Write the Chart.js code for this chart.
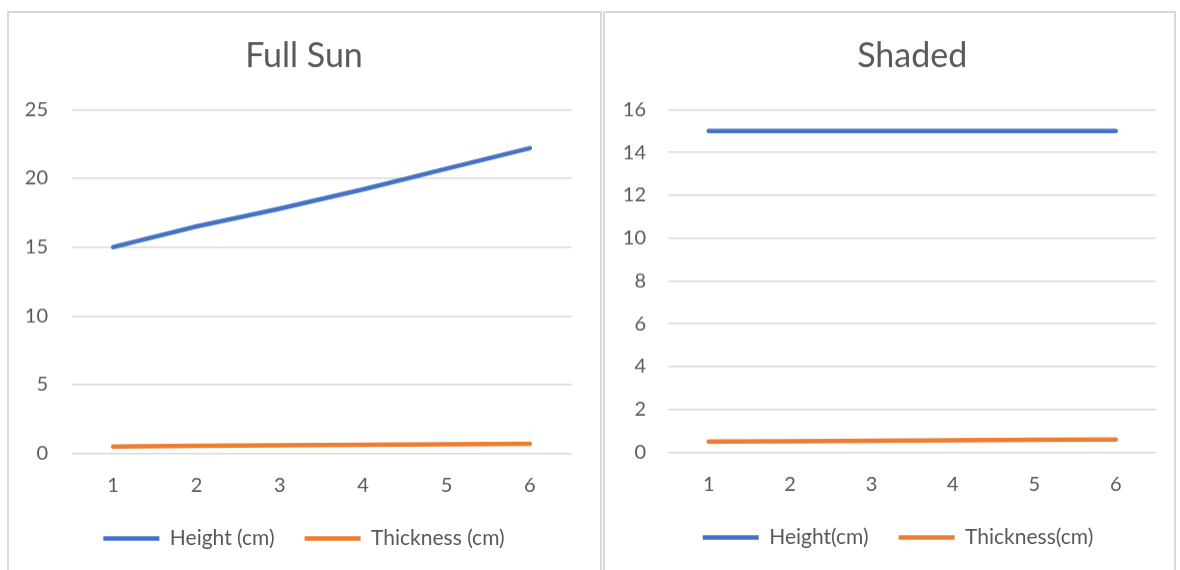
<!DOCTYPE html>
<html>
<head>
<meta charset="utf-8">
<script src="https://cdn.jsdelivr.net/npm/chart.js@4.4.0/dist/chart.umd.min.js"></script>
<style>
  html, body { margin: 0; padding: 0; background: #fff; overflow: hidden; }
  body { width: 1180px; height: 570px; position: relative; }
  .frame { position: absolute; box-sizing: border-box; border: 2px solid #d9d9d9; }
  canvas { position: absolute; }
</style>
</head>
<body>
<div class="frame" style="left:7px; top:11px; width:595px; height:600px;"></div>
<div class="frame" style="left:603px; top:11px; width:573px; height:600px;"></div>
<canvas id="sunChart" style="left:8px; top:0px;"></canvas>
<canvas id="shadeChart" style="left:604px; top:0px;"></canvas>
<script>
const days = ['1', '2', '3', '4', '5', '6'];

const sunHeight = [15, 16.5, 17.8, 19.2, 20.7, 22.2];
const sunThickness = [0.5, 0.54, 0.58, 0.62, 0.66, 0.7];
const sunLabels = ['Height (cm)', 'Thickness (cm)'];
const sunMax = 25, sunStep = 5;

const shadeHeight = [15, 15, 15, 15, 15, 15];
const shadeThickness = [0.5, 0.52, 0.54, 0.56, 0.58, 0.6];
const shadeLabels = ['Height(cm)', 'Thickness(cm)'];
const shadeMax = 16, shadeStep = 2;

const textColor = '#595959';
const gridColor = '#d9d9d9';
const blue = '#4472C4';
const orange = '#ED7D31';
const family = 'Lato, "Open Sans", sans-serif';

function lineSet(label, data, color) {
    return {
        label: label,
        data: data,
        borderColor: color,
        backgroundColor: color,
        borderWidth: 4.5,
        borderCapStyle: 'round',
        borderJoinStyle: 'round',
        pointRadius: 0,
        pointStyle: 'line',
        tension: 0
    };
}

// cfg: canvas size, axis widths and title placement for one panel
function makeChart(id, cfg, title, labels, height, thickness, yMax, yStep) {
    const el = document.getElementById(id);
    el.width = cfg.w;
    el.height = cfg.h;
    el.style.width = cfg.w + 'px';
    el.style.height = cfg.h + 'px';
    return new Chart(el, {
        type: 'line',
        data: {
            labels: days,
            datasets: [
                lineSet(labels[0], height, blue),
                lineSet(labels[1], thickness, orange)
            ]
        },
        options: {
            responsive: false,
            animation: false,
            layout: { padding: 0 },
            plugins: {
                title: {
                    display: true,
                    text: title,
                    color: textColor,
                    fullSize: cfg.titleFull,
                    font: { family: family, size: 34, weight: 'normal' },
                    padding: { top: 35.6, bottom: 33 }
                },
                legend: {
                    position: 'bottom',
                    labels: {
                        color: textColor,
                        font: { family: family, size: 21 },
                        usePointStyle: true,
                        pointStyleWidth: 56,
                        padding: 30
                    }
                },
                tooltip: { enabled: false }
            },
            scales: {
                x: {
                    offset: true,
                    grid: { display: false, drawTicks: false },
                    border: { display: false },
                    ticks: {
                        color: textColor,
                        font: { family: family, size: 20 },
                        padding: 20,
                        maxRotation: 0
                    },
                    afterFit: (s) => { s.height = 44.5; }
                },
                y: {
                    min: 0,
                    max: yMax,
                    grid: { color: gridColor, lineWidth: 1.5, drawTicks: false },
                    border: { display: false },
                    ticks: {
                        stepSize: yStep,
                        color: textColor,
                        font: { family: family, size: 20 },
                        padding: cfg.tickPad
                    },
                    afterFit: (s) => { s.width = cfg.yWidth; }
                },
                yPad: {
                    position: 'right',
                    display: true,
                    grid: { display: false },
                    border: { display: false },
                    ticks: { display: false },
                    afterFit: (s) => { s.width = cfg.rightWidth; }
                }
            }
        }
    });
}

makeChart('sunChart', { w: 592, h: 558.5, yWidth: 63.5, rightWidth: 28.5, tickPad: 23.5, titleFull: true },
    'Full Sun', sunLabels, sunHeight, sunThickness, sunMax, sunStep);
makeChart('shadeChart', { w: 588, h: 557.5, yWidth: 64, rightWidth: 35.6, tickPad: 22, titleFull: false },
    'Shaded', shadeLabels, shadeHeight, shadeThickness, shadeMax, shadeStep);
</script>
</body>
</html>
